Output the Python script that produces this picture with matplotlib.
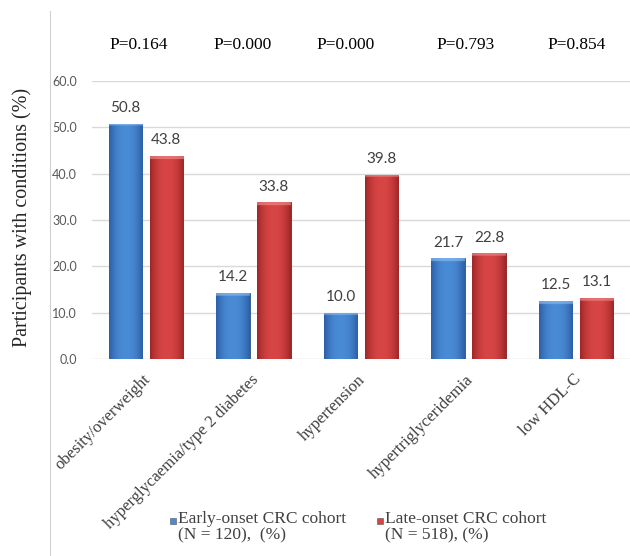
import numpy as np
import matplotlib
matplotlib.use("Agg")
import matplotlib.pyplot as plt
from matplotlib.colors import to_rgb
from matplotlib.patches import Rectangle
from matplotlib.lines import Line2D

conditions = ["obesity/overweight", "hyperglycaemia/type 2 diabetes",
              "hypertension", "hypertriglyceridemia", "low HDL-C"]
early_onset = [50.8, 14.2, 10.0, 21.7, 12.5]
late_onset = [43.8, 33.8, 39.8, 22.8, 13.1]
p_values = ["P=0.164", "P=0.000", "P=0.000", "P=0.793", "P=0.854"]
series_labels = ["Early-onset CRC cohort\n(N = 120),  (%)",
                 "Late-onset CRC cohort\n(N = 518), (%)"]
y_ticks = [0, 10, 20, 30, 40, 50, 60]

blue_mid, blue_edge, blue_top = "#4a8bd6", "#2c5fa6", "#8fbdf0"
red_mid, red_edge, red_top = "#d84545", "#9e2626", "#f08a8a"

serif = "Liberation Serif"
sans = "Lato"

fig = plt.figure(figsize=(6.30, 5.56), dpi=100)
ax = fig.add_axes([92 / 630, 1 - 359 / 556, 1 - 92 / 630, (359 - 81) / 556])

x = np.arange(len(conditions))
w = 0.31
off = 0.19


def shade_bar(bar, mid, edge, top):
    x0, y0 = bar.get_x(), bar.get_y()
    bw, bh = bar.get_width(), bar.get_height()
    n = 64
    t = np.linspace(-1, 1, n)
    m = 1 - np.abs(t) ** 2.2
    c_mid, c_edge, c_top = (np.array(to_rgb(c)) for c in (mid, edge, top))
    row = c_edge[None, :] + (c_mid - c_edge)[None, :] * m[:, None]
    rows = 200
    img = np.repeat(row[None, :, :], rows, axis=0)
    bevel = max(1, int(round(rows * 0.6 / max(bh, 0.6))))
    for i in range(min(bevel, rows)):
        img[i] = 0.35 * img[i] + 0.65 * c_top
    im = ax.imshow(img, extent=[x0, x0 + bw, y0, y0 + bh], origin="upper",
                   aspect="auto", zorder=3, interpolation="bilinear")
    im.set_clip_path(bar)


bars_e = ax.bar(x - off, early_onset, w, color=blue_mid, edgecolor="#244f8c",
                linewidth=0.6, zorder=2)
bars_l = ax.bar(x + off, late_onset, w, color=red_mid, edgecolor="#7e1c1c",
                linewidth=0.6, zorder=2)
for b in bars_e:
    shade_bar(b, blue_mid, blue_edge, blue_top)
for b in bars_l:
    shade_bar(b, red_mid, red_edge, red_top)

for bars, vals in ((bars_e, early_onset), (bars_l, late_onset)):
    for b, v in zip(bars, vals):
        ax.text(b.get_x() + b.get_width() / 2, v + 1.9, f"{v:.1f}",
                ha="center", va="bottom", fontsize=11, family=sans,
                color="#404040", zorder=4)

ax.set_xlim(-0.5, len(conditions) - 0.5)
ax.set_ylim(0, 60)
ax.set_yticks(y_ticks)
ax.set_yticklabels([f"{v:.1f}" for v in y_ticks], family=sans, fontsize=9,
                   color="#595959")
ax.yaxis.grid(True, color="#d9d9d9", linewidth=1.0)
ax.set_axisbelow(True)
for s in ax.spines.values():
    s.set_visible(False)
ax.tick_params(axis="y", length=0, pad=11)
ax.tick_params(axis="x", length=0, pad=9)
ax.set_xticks(x - 0.03)
ax.set_xticklabels(conditions, rotation=45, ha="right", va="top",
                   rotation_mode="anchor", family=serif, fontsize=12,
                   color="#404040")

fig.text(22 / 630, 1 - 217 / 556, "Participants with conditions (%)",
         rotation=90, ha="center", va="center", family=serif, fontsize=14.5,
         color="#262626")

p_x = [139, 243, 346, 466, 577]
for px, p in zip(p_x, p_values):
    fig.text(px / 630, 1 - 45 / 556, p, ha="center", va="center",
             family=serif, fontsize=12.5, color="#000000")

# frame line on the left edge
fig.add_artist(Line2D([50 / 630, 50 / 630], [0, 1 - 11 / 556],
                      color="#d0d0d0", linewidth=0.8))

# legend
leg_x = [170, 377]
for lx, col, lab in zip(leg_x, [blue_mid, red_mid], series_labels):
    fig.add_artist(Rectangle((lx / 630, 1 - 524 / 556), 6 / 630, 6 / 556,
                             transform=fig.transFigure, facecolor=col,
                             edgecolor="#555555", linewidth=0.4))
    fig.text((lx + 8) / 630, 1 - 511 / 556, lab, ha="left", va="top",
             family=serif, fontsize=12.5, color="#404040", linespacing=1.05)

fig.savefig("out.png", dpi=100)
